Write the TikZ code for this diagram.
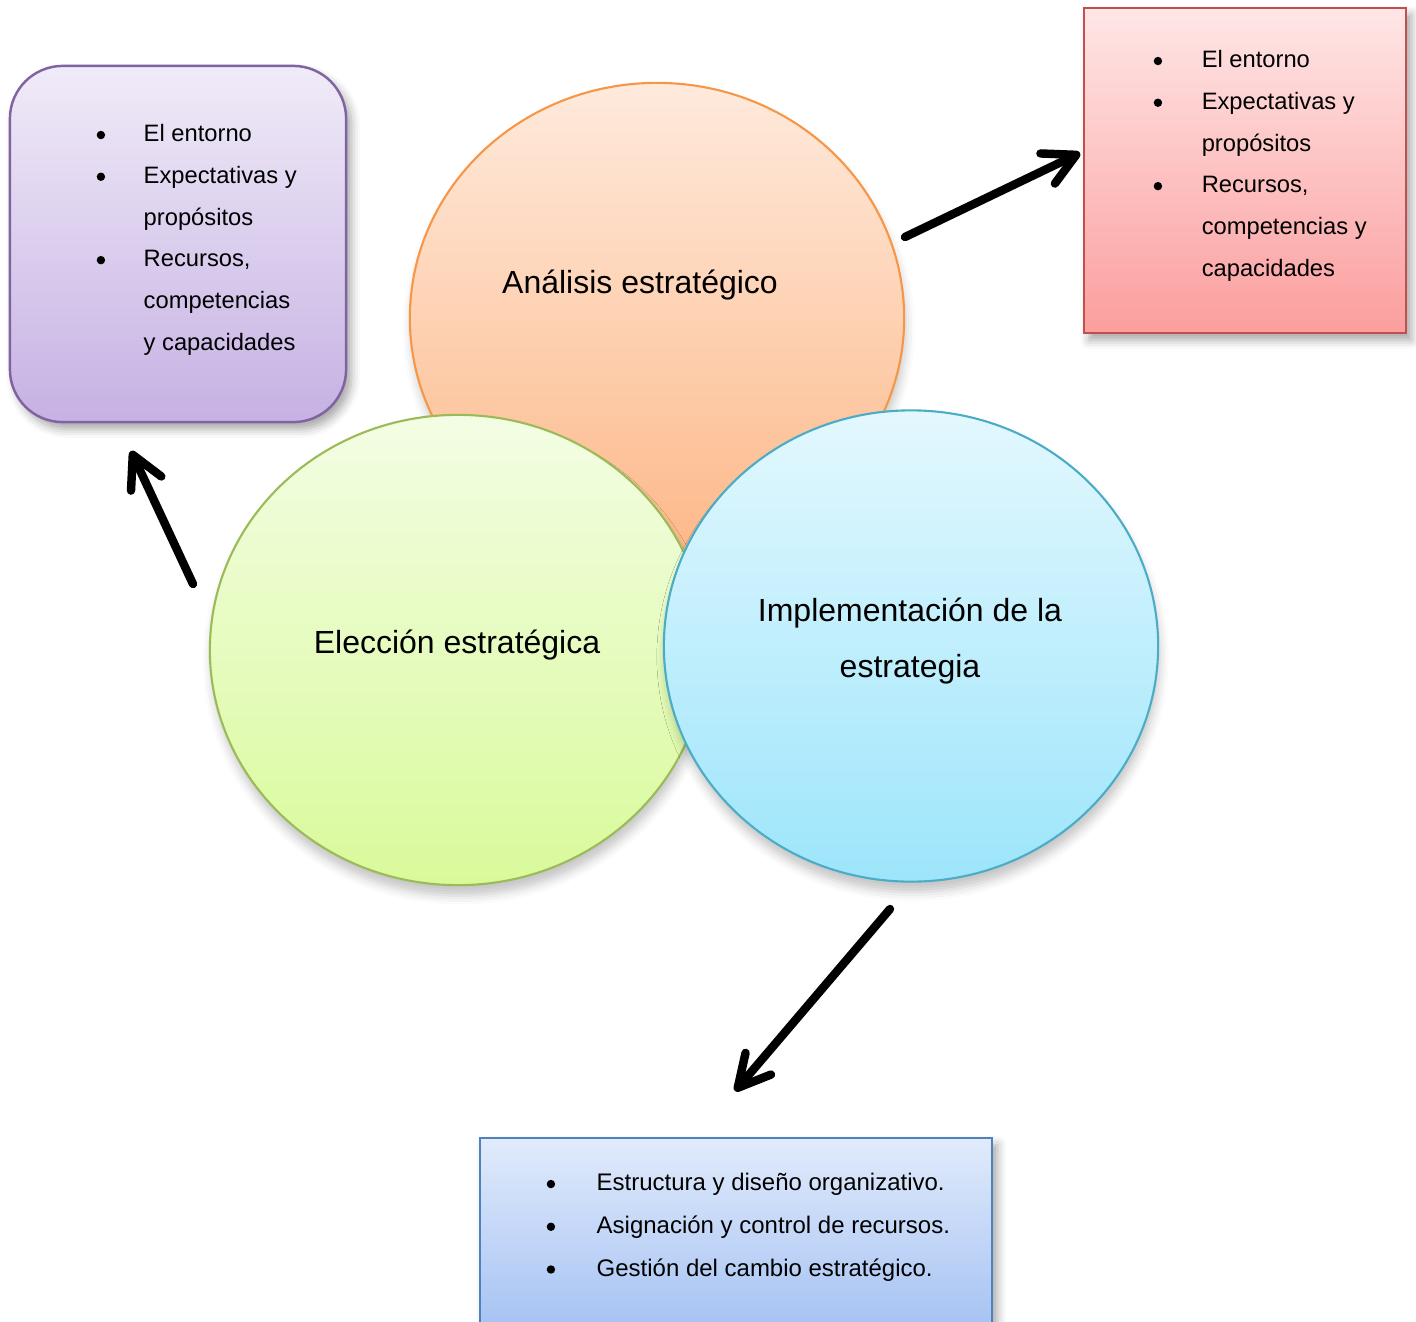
\documentclass[tikz,border=0pt]{standalone}
\usepackage{fontspec}
\setmainfont{Liberation Sans}
\usetikzlibrary{shapes.geometric,arrows.meta,shadows,shadows.blur}

\definecolor{orBorder}{HTML}{F79646}
\definecolor{orTop}{HTML}{FEEADC}
\definecolor{orBot}{HTML}{FDB98A}
\definecolor{grBorder}{HTML}{9BBB59}
\definecolor{grTop}{HTML}{F3FDE4}
\definecolor{grBot}{HTML}{D9FA9A}
\definecolor{blBorder}{HTML}{4BACC6}
\definecolor{blTop}{HTML}{E3F8FE}
\definecolor{blBot}{HTML}{9DE5FB}
\definecolor{puBorder}{HTML}{8064A2}
\definecolor{puTop}{HTML}{F0EBF8}
\definecolor{puBot}{HTML}{C6B1E3}
\definecolor{rdBorder}{HTML}{C0504D}
\definecolor{rdTop}{HTML}{FFE6E6}
\definecolor{rdBot}{HTML}{FB9E9E}
\definecolor{bxBorder}{HTML}{4F81BD}
\definecolor{bxTop}{HTML}{E1EBFB}
\definecolor{bxBot}{HTML}{A2C0F3}

% round list bullet
\newcommand{\listdot}{\tikz[baseline=0pt]\fill (1.2pt,1.9pt) circle (1.2pt);}

\tikzset{
  venn/.style={ellipse, draw, line width=0.6pt, inner sep=0,
    blur shadow={shadow xshift=0.5pt, shadow yshift=-3pt, shadow blur radius=2.5pt, shadow opacity=22}},
  bubbletext/.style={font=\fontsize{9.1}{15.9}\selectfont, align=center, inner sep=0},
  listbox/.style={draw, line width=0.7pt, inner sep=0,
    blur shadow={shadow xshift=1.5pt, shadow yshift=-2pt, shadow blur radius=2.5pt, shadow opacity=35}},
  listtext/.style={font=\fontsize{6.75}{11.86}\selectfont, inner sep=0, anchor=base west},
  arr/.style={line width=2.4pt, line cap=round, line join=round,
    -{Straight Barb[length=9pt,width=9.5pt,line cap=round,line join=round]}}
}

\begin{document}
\begin{tikzpicture}[x=0.01cm,y=-0.01cm]
\useasboundingbox (0,0) rectangle (1416,1321);

% the three overlapping phases
\node (analisis) [venn, draw=orBorder, top color=orTop, bottom color=orBot,
  minimum width=4.94cm, minimum height=4.70cm] at (657,318) {};
\node (eleccion) [venn, draw=grBorder, top color=grTop, bottom color=grBot,
  minimum width=4.96cm, minimum height=4.70cm] at (458,650) {};
\node (implem) [venn, draw=blBorder, top color=blTop, bottom color=blBot,
  minimum width=4.94cm, minimum height=4.71cm] at (911,646) {};

\node (tAnalisis) [bubbletext] at (640,285) {Análisis estratégico};
\node (tEleccion) [bubbletext] at (457,645) {Elección estratégica};
\node (tImplem) [bubbletext] at (910,641) {Implementación de la\\estrategia};

% list boxes
\node (boxPurple) [listbox, draw=puBorder, top color=puTop, bottom color=puBot,
  rounded corners=15pt, minimum width=3.36cm, minimum height=3.56cm] at (178,244) {};
\node (boxRed) [listbox, draw=rdBorder, top color=rdTop, bottom color=rdBot,
  minimum width=3.22cm, minimum height=3.25cm] at (1245,170.5) {};
\node (boxBlue) [listbox, draw=bxBorder, top color=bxTop, bottom color=bxBot,
  minimum width=5.12cm, minimum height=2.02cm] at (736,1239) {};

\node (listPurple) [listtext] at (96,141.7) {%
  \begin{tabular}[t]{@{}p{0.47cm}@{}l@{}}
  \listdot & El entorno\\
  \listdot & Expectativas y\\
           & propósitos\\
  \listdot & Recursos,\\
           & competencias\\
           & y capacidades
  \end{tabular}};

\node (listRed) [listtext] at (1153,67.7) {%
  \begin{tabular}[t]{@{}p{0.48cm}@{}l@{}}
  \listdot & El entorno\\
  \listdot & Expectativas y\\
           & propósitos\\
  \listdot & Recursos,\\
           & competencias y\\
           & capacidades
  \end{tabular}};

\node (listBlue) [listtext, font=\fontsize{6.82}{12.15}\selectfont] at (546,1190.7) {%
  \begin{tabular}[t]{@{}p{0.5cm}@{}l@{}}
  \listdot & Estructura y diseño organizativo.\\
  \listdot & Asignación y control de recursos.\\
  \listdot & Gestión del cambio estratégico.
  \end{tabular}};

% connectors
\coordinate (a1s) at (905,237);
\coordinate (a1e) at (1080,153);
\coordinate (a2s) at (193,584);
\coordinate (a2e) at (131,451);
\coordinate (a3s) at (890,909);
\coordinate (a3e) at (735,1091);

\draw[arr] (a1s) -- (a1e);
\draw[arr] (a2s) -- (a2e);
\draw[arr] (a3s) -- (a3e);
\end{tikzpicture}
\end{document}
